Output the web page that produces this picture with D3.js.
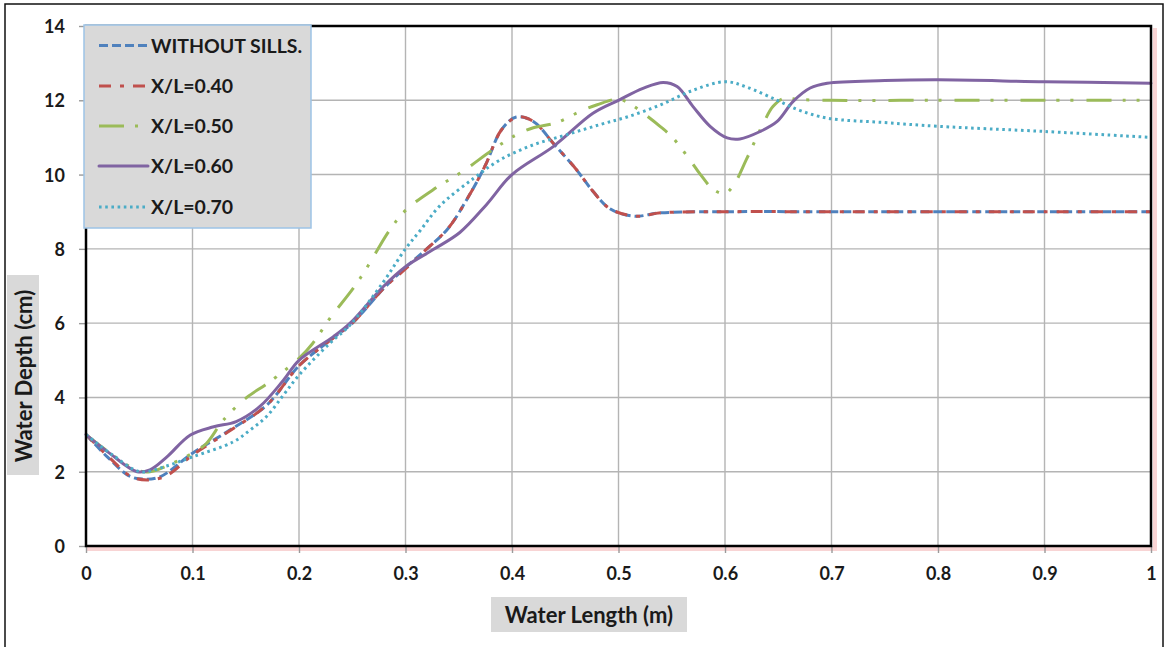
<!DOCTYPE html>
<html>
<head>
<meta charset="utf-8">
<script src="https://cdn.jsdelivr.net/npm/d3@7"></script>
<style>
  html, body { margin: 0; padding: 0; background: #fff; }
  svg { display: block; }
  text { font-family: Lato, "Open Sans", sans-serif; font-weight: bold; fill: #1a1a1a; }
</style>
</head>
<body>
<svg id="chart" width="1167" height="647"></svg>
<script>
// Water depth profiles along the flume, with and without sills
const xTicks = [0, 0.1, 0.2, 0.3, 0.4, 0.5, 0.6, 0.7, 0.8, 0.9, 1];
const yTicks = [0, 2, 4, 6, 8, 10, 12, 14];
const xTickLabels = ["0", "0.1", "0.2", "0.3", "0.4", "0.5", "0.6", "0.7", "0.8", "0.9", "1"];

const seriesNames = ["WITHOUT SILLS.", "X/L=0.40", "X/L=0.50", "X/L=0.60", "X/L=0.70"];

// [length (m), depth (cm)]
const withoutSills = [
  [0, 3], [0.02, 2.4], [0.041, 1.88], [0.055, 1.8], [0.07, 1.87], [0.1, 2.5],
  [0.135, 3.12], [0.17, 3.8], [0.2, 4.85], [0.232, 5.6], [0.25, 6.0], [0.28, 6.95],
  [0.3, 7.5], [0.32, 8.0], [0.34, 8.55], [0.36, 9.45], [0.375, 10.25], [0.39, 11.2],
  [0.404, 11.55], [0.42, 11.43], [0.44, 10.8], [0.46, 10.15], [0.476, 9.55],
  [0.492, 9.08], [0.514, 8.88], [0.54, 8.97], [0.6, 9.0], [0.7, 9.0], [0.8, 9.0],
  [0.9, 9.0], [1, 9.0]
];
const xl040 = [
  [0, 3], [0.022, 2.38], [0.043, 1.86], [0.06, 1.78], [0.076, 1.9], [0.1, 2.45],
  [0.135, 3.1], [0.17, 3.8], [0.2, 4.85], [0.232, 5.6], [0.25, 6.0], [0.28, 6.95],
  [0.304, 7.56], [0.32, 8.0], [0.34, 8.55], [0.36, 9.45], [0.375, 10.25], [0.39, 11.2],
  [0.405, 11.55], [0.42, 11.43], [0.44, 10.8], [0.46, 10.15], [0.476, 9.55],
  [0.492, 9.08], [0.516, 8.88], [0.54, 8.97], [0.6, 9.0], [0.7, 9.0], [0.8, 9.0],
  [0.9, 9.0], [1, 9.0]
];
const xl050 = [
  [0, 3], [0.025, 2.45], [0.047, 2.05], [0.06, 2.0], [0.076, 2.16], [0.1, 2.5],
  [0.113, 2.76], [0.129, 3.39], [0.151, 4.0], [0.168, 4.33], [0.179, 4.56], [0.2, 5.05],
  [0.213, 5.46], [0.229, 6.13], [0.251, 6.94], [0.265, 7.55], [0.285, 8.5], [0.301, 9.06],
  [0.329, 9.65], [0.354, 10.09], [0.382, 10.67], [0.404, 11.07], [0.42, 11.26],
  [0.442, 11.4], [0.464, 11.7], [0.48, 11.88], [0.5, 12.03], [0.511, 11.9], [0.523, 11.66],
  [0.539, 11.3], [0.551, 10.99], [0.567, 10.4], [0.577, 10.0], [0.589, 9.6], [0.6, 9.49],
  [0.609, 9.76], [0.62, 10.4], [0.636, 11.38], [0.645, 11.83], [0.655, 12.05],
  [0.67, 12.02], [0.7, 12.0], [0.8, 12.0], [0.9, 12.0], [1, 12.0]
];
const xl060 = [
  [0, 3], [0.022, 2.5], [0.048, 2.0], [0.06, 2.05], [0.076, 2.4], [0.098, 2.99],
  [0.12, 3.21], [0.141, 3.35], [0.163, 3.75], [0.185, 4.45], [0.2, 5.0], [0.232, 5.63],
  [0.248, 6.0], [0.279, 6.98], [0.3, 7.52], [0.326, 7.98], [0.351, 8.44], [0.376, 9.19],
  [0.4, 10.0], [0.439, 10.76], [0.476, 11.65], [0.5, 12.0], [0.523, 12.32], [0.542, 12.48],
  [0.555, 12.37], [0.57, 11.83], [0.586, 11.3], [0.602, 10.99], [0.614, 10.96],
  [0.633, 11.16], [0.649, 11.43], [0.664, 11.97], [0.68, 12.33], [0.696, 12.46],
  [0.75, 12.53], [0.8, 12.55], [0.9, 12.5], [1, 12.46]
];
const xl070 = [
  [0, 3], [0.025, 2.45], [0.051, 2.0], [0.075, 2.15], [0.1, 2.4], [0.138, 2.8],
  [0.154, 3.12], [0.17, 3.5], [0.185, 4.05], [0.2, 4.6], [0.229, 5.46], [0.248, 5.95],
  [0.279, 7.1], [0.3, 8.0], [0.314, 8.5], [0.332, 9.15], [0.364, 9.9], [0.389, 10.4],
  [0.42, 10.8], [0.451, 11.07], [0.483, 11.35], [0.508, 11.55], [0.539, 11.87],
  [0.57, 12.27], [0.6, 12.5], [0.62, 12.36], [0.649, 12.0], [0.67, 11.73], [0.696, 11.52],
  [0.75, 11.4], [0.8, 11.3], [0.9, 11.16], [1, 11.0]
];

const seriesData = [withoutSills, xl040, xl050, xl060, xl070];
const seriesColors = ["#4f81bd", "#c0504d", "#9bbb59", "#8064a2", "#4bacc6"];
const seriesDash = ["9,4", "12,9,4,9", "25,11,3,11,3,13", null, "2.6,3.6"];
const seriesCaps = ["butt", "butt", "butt", "round", "butt"];

const svg = d3.select("#chart");
const plot = { left: 86, right: 1151, top: 26, bottom: 546 };

const x = d3.scaleLinear().domain([0, 1]).range([plot.left, plot.right]);
const y = d3.scaleLinear().domain([0, 14]).range([plot.bottom, plot.top]);

// outer frame
svg.append("rect").attr("x", 5).attr("y", 4).attr("width", 1158).attr("height", 680)
  .attr("fill", "none").attr("stroke", "#111").attr("stroke-width", 1.5);

// soft red shadow under the bottom and right edges of the plot area
svg.append("path")
  .attr("d", `M${plot.left},${plot.bottom + 3}H${plot.right + 4}V${plot.top + 2}`)
  .attr("fill", "none").attr("stroke", "#f3b8b8").attr("stroke-width", 4).attr("opacity", 0.6);

// grid
const grid = svg.append("g").attr("stroke", "#b4b4b4").attr("stroke-width", 1.4);
grid.selectAll("line.v").data(xTicks).join("line")
  .attr("x1", d => x(d)).attr("x2", d => x(d)).attr("y1", plot.top).attr("y2", plot.bottom);
grid.selectAll("line.h").data(yTicks).join("line")
  .attr("y1", d => y(d)).attr("y2", d => y(d)).attr("x1", plot.left).attr("x2", plot.right);

// axes with outside tick marks
const xAxis = d3.axisBottom(x).tickValues(xTicks).tickSize(7).tickPadding(14)
  .tickFormat((d, i) => xTickLabels[i]);
const yAxis = d3.axisLeft(y).tickValues(yTicks).tickSize(7).tickPadding(14);

const gx = svg.append("g").attr("transform", `translate(0,${plot.bottom})`).call(xAxis);
const gy = svg.append("g").attr("transform", `translate(${plot.left},0)`).call(yAxis);
[gx, gy].forEach(g => {
  g.select(".domain").remove();
  g.selectAll(".tick line").attr("stroke", "#9a9a9a").attr("stroke-width", 1.4);
  g.selectAll(".tick text").style("font-family", "Lato, sans-serif")
    .style("font-weight", "bold").style("font-size", "18px").attr("fill", "#1a1a1a");
});
gy.selectAll(".tick text").attr("dy", "0.36em");

// series
const line = d3.line().x(d => x(d[0])).y(d => y(d[1])).curve(d3.curveCatmullRom.alpha(0.5));
svg.append("g").selectAll("path").data(seriesData).join("path")
  .attr("d", d => line(d))
  .attr("fill", "none")
  .attr("stroke", (d, i) => seriesColors[i])
  .attr("stroke-width", 3)
  .attr("stroke-linecap", (d, i) => seriesCaps[i])
  .attr("stroke-linejoin", "round")
  .attr("stroke-dasharray", (d, i) => seriesDash[i]);

// plot area border
svg.append("rect")
  .attr("x", plot.left).attr("y", plot.top)
  .attr("width", plot.right - plot.left).attr("height", plot.bottom - plot.top)
  .attr("fill", "none").attr("stroke", "#000").attr("stroke-width", 2.5);

// legend
const lg = svg.append("g");
lg.append("rect").attr("x", 84).attr("y", 25).attr("width", 227).attr("height", 203)
  .attr("fill", "#d9d9d9").attr("stroke", "#9dc3e6").attr("stroke-width", 1.5);
const rowY = [45.5, 86, 126, 166, 207];
seriesNames.forEach((name, i) => {
  lg.append("line").attr("x1", 99).attr("x2", 148).attr("y1", rowY[i]).attr("y2", rowY[i])
    .attr("stroke", seriesColors[i]).attr("stroke-width", 3)
    .attr("stroke-linecap", seriesCaps[i])
    .attr("stroke-dasharray", seriesDash[i]);
  lg.append("text").attr("x", 151).attr("y", rowY[i]).attr("dy", "0.36em")
    .style("font-size", "19.5px").text(name);
});

// axis titles on grey panels
svg.append("rect").attr("x", 491).attr("y", 597).attr("width", 196).attr("height", 35).attr("fill", "#d9d9d9");
svg.append("text").attr("x", 589).attr("y", 615).attr("dy", "0.36em").attr("text-anchor", "middle")
  .style("font-size", "22px").text("Water Length (m)");

svg.append("rect").attr("x", 7).attr("y", 275).attr("width", 32).attr("height", 200).attr("fill", "#d9d9d9");
svg.append("text").attr("transform", "translate(24,376) rotate(-90)").attr("dy", "0.36em")
  .attr("text-anchor", "middle").style("font-size", "22px").text("Water Depth (cm)");
</script>
</body>
</html>
